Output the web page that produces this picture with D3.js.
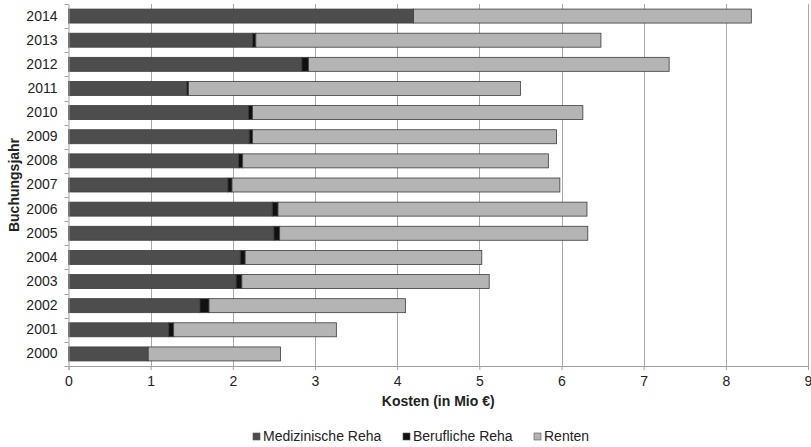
<!DOCTYPE html>
<html>
<head>
<meta charset="utf-8">
<script src="https://cdn.jsdelivr.net/npm/d3@7/dist/d3.min.js"></script>
<style>
  html, body { margin: 0; padding: 0; background: #fff; }
  svg { display: block; font-family: "Liberation Sans", Arial, sans-serif; }
</style>
</head>
<body>
<svg id="chart" width="811" height="447"></svg>
<script>
// Kosten je Buchungsjahr (in Mio €)
const years = ["2000","2001","2002","2003","2004","2005","2006","2007","2008","2009","2010","2011","2012","2013","2014"];
const medizinischeReha = [0.97, 1.22, 1.60, 2.04, 2.09, 2.50, 2.48, 1.94, 2.07, 2.20, 2.19, 1.44, 2.84, 2.24, 4.20];
const beruflicheReha   = [0.00, 0.06, 0.11, 0.07, 0.06, 0.07, 0.07, 0.05, 0.05, 0.04, 0.05, 0.02, 0.08, 0.04, 0.00];
const renten           = [1.61, 1.98, 2.39, 3.01, 2.88, 3.75, 3.76, 3.99, 3.72, 3.70, 4.02, 4.04, 4.39, 4.20, 4.11];
const seriesNames = ["Medizinische Reha", "Berufliche Reha", "Renten"];
const seriesColors = ["#4d4d4d", "#111111", "#b4b4b4"];
const xTicks = [0, 1, 2, 3, 4, 5, 6, 7, 8, 9];

const svg = d3.select("#chart");
const margin = { left: 68.5, right: 3, top: 4, bottom: 81 };
const W = 811, H = 447;

const rows = years.map((y, i) => ({
  year: y,
  "Medizinische Reha": medizinischeReha[i],
  "Berufliche Reha": beruflicheReha[i],
  "Renten": renten[i]
}));
const stacked = d3.stack().keys(seriesNames)(rows);

const x = d3.scaleLinear().domain([0, 9]).range([margin.left, W - margin.right]);
const y = d3.scaleBand()
  .domain(years.slice().reverse())
  .range([margin.top, H - margin.bottom])
  .paddingInner(0.42)
  .paddingOuter(0.21);

// vertical gridlines
svg.append("g")
  .selectAll("line")
  .data(xTicks.slice(1))
  .join("line")
  .attr("x1", d => Math.round(x(d)) + 0.5)
  .attr("x2", d => Math.round(x(d)) + 0.5)
  .attr("y1", margin.top)
  .attr("y2", H - margin.bottom)
  .attr("stroke", "#a8a8a8")
  .attr("stroke-width", 1);

// stacked bars
svg.append("g")
  .selectAll("g")
  .data(stacked)
  .join("g")
  .attr("fill", (d, i) => seriesColors[i])
  .selectAll("rect")
  .data(d => d.filter(p => p[1] - p[0] > 0))
  .join("rect")
  .attr("x", d => x(d[0]))
  .attr("width", d => x(d[1]) - x(d[0]))
  .attr("y", d => y(d.data.year))
  .attr("height", y.bandwidth())
  .attr("stroke", "#3c3c3c")
  .attr("stroke-width", 0.8);

// x axis
const xAxis = svg.append("g")
  .attr("transform", `translate(0,${H - margin.bottom})`)
  .call(d3.axisBottom(x).tickValues(xTicks).tickSize(4).tickPadding(6).tickFormat(d3.format("d")));
xAxis.select(".domain").attr("stroke", "#a0a0a0");
xAxis.selectAll(".tick line").attr("stroke", "#a0a0a0");
xAxis.selectAll("text").attr("font-size", 14).attr("fill", "#222").attr("font-family", "Liberation Sans, Arial, sans-serif");

// y axis
const yAxis = svg.append("g")
  .attr("transform", `translate(${margin.left},0)`)
  .call(d3.axisLeft(y).tickSize(0).tickPadding(11));
yAxis.select(".domain").attr("stroke", "#a0a0a0");
yAxis.selectAll("text").attr("font-size", 14).attr("fill", "#222").attr("font-family", "Liberation Sans, Arial, sans-serif");

// category boundary tick marks on the left axis
const bounds = d3.range(years.length + 1).map(i => margin.top + i * y.step() - (i === 0 ? 0 : 0));
svg.append("g")
  .selectAll("line")
  .data(bounds)
  .join("line")
  .attr("x1", margin.left - 4)
  .attr("x2", margin.left)
  .attr("y1", d => Math.round(d) + 0.5)
  .attr("y2", d => Math.round(d) + 0.5)
  .attr("stroke", "#a0a0a0");

// axis titles
svg.append("text")
  .attr("x", (x(0) + x(9)) / 2)
  .attr("y", 406)
  .attr("text-anchor", "middle")
  .attr("font-size", 14)
  .attr("font-weight", "bold")
  .attr("fill", "#222")
  .text("Kosten (in Mio €)");

svg.append("text")
  .attr("transform", `translate(19,${(margin.top + H - margin.bottom) / 2}) rotate(-90)`)
  .attr("text-anchor", "middle")
  .attr("font-size", 14)
  .attr("font-weight", "bold")
  .attr("fill", "#222")
  .text("Buchungsjahr");

// legend
const legendX = [253, 403, 534];
const legend = svg.append("g")
  .selectAll("g")
  .data(seriesNames)
  .join("g")
  .attr("transform", (d, i) => `translate(${legendX[i]},0)`);
legend.append("rect")
  .attr("x", 0).attr("y", 433)
  .attr("width", 7).attr("height", 7)
  .attr("fill", (d, i) => seriesColors[i])
  .attr("stroke", "#555").attr("stroke-width", 0.6);
legend.append("text")
  .attr("x", 10).attr("y", 441)
  .attr("font-size", 14)
  .attr("fill", "#222")
  .text(d => d);
</script>
</body>
</html>
